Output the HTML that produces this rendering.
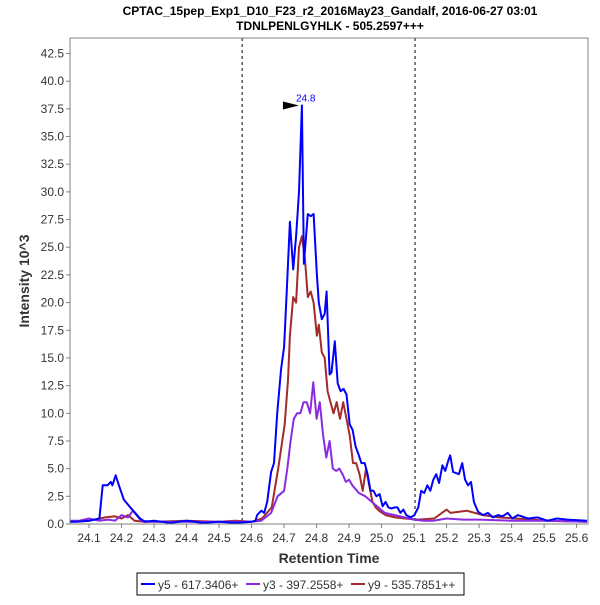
<!DOCTYPE html>
<html><head><meta charset="utf-8"><style>
body{margin:0;background:#fff;width:600px;height:600px;overflow:hidden;font-family:"Liberation Sans",sans-serif}
svg text{font-family:"Liberation Sans",sans-serif}
</style></head><body>
<svg id="chart" width="600" height="600">
<text x="330" y="15" text-anchor="middle" font-size="12" font-weight="bold" fill="#000">CPTAC_15pep_Exp1_D10_F23_r2_2016May23_Gandalf, 2016-06-27 03:01</text>
<text x="330" y="30" text-anchor="middle" font-size="12" font-weight="bold" fill="#000">TDNLPENLGYHLK - 505.2597+++</text>
<g id="grid"></g>
<g id="series"></g>
<rect x="70" y="38" width="518" height="486" fill="none" stroke="#808080"/>
<g id="axes"></g>
<text x="329" y="563" text-anchor="middle" font-size="14" font-weight="bold" fill="#333">Retention Time</text>
<text transform="translate(29,281) rotate(-90)" text-anchor="middle" font-size="14" font-weight="bold" fill="#333">Intensity 10^3</text>
<g>
<rect x="137" y="573" width="327" height="22" fill="#fff" stroke="#000"/>
<line x1="141" y1="584" x2="155" y2="584" stroke="#0000ff" stroke-width="2"/>
<text x="158" y="589" font-size="12" fill="#333">y5 - 617.3406+</text>
<line x1="246" y1="584" x2="260" y2="584" stroke="#8a2be2" stroke-width="2"/>
<text x="263" y="589" font-size="12" fill="#333">y3 - 397.2558+</text>
<line x1="351" y1="584" x2="365" y2="584" stroke="#a52a2a" stroke-width="2"/>
<text x="368" y="589" font-size="12" fill="#333">y9 - 535.7851++</text>
</g>
</svg>
<script>
const xTicks=[24.1,24.2,24.3,24.4,24.5,24.6,24.7,24.8,24.9,25.0,25.1,25.2,25.3,25.4,25.5,25.6];
const yTicks=[0,2.5,5,7.5,10,12.5,15,17.5,20,22.5,25,27.5,30,32.5,35,37.5,40,42.5];
const markers=[24.571,25.103];
const peakTime=24.755, peakValue=37.8, peakLabel="24.8";
const y5T=[24.042,24.062,24.102,24.132,24.142,24.157,24.167,24.172,24.182,24.192,24.207,24.227,24.242,24.257,24.272,24.3,24.35,24.4,24.45,24.5,24.55,24.6,24.612,24.617,24.63,24.639,24.648,24.66,24.669,24.679,24.691,24.7,24.709,24.718,24.728,24.737,24.746,24.755,24.761,24.773,24.782,24.791,24.801,24.807,24.816,24.825,24.831,24.84,24.846,24.856,24.865,24.874,24.883,24.892,24.902,24.911,24.92,24.929,24.938,24.948,24.957,24.966,24.975,24.984,24.994,25.003,25.012,25.021,25.03,25.04,25.049,25.058,25.067,25.076,25.089,25.101,25.113,25.122,25.131,25.141,25.15,25.159,25.168,25.177,25.187,25.196,25.205,25.211,25.22,25.229,25.238,25.248,25.257,25.266,25.275,25.284,25.297,25.312,25.327,25.342,25.358,25.372,25.388,25.402,25.419,25.45,25.48,25.51,25.54,25.57,25.632];
const y5V=[0.2,0.2,0.3,0.5,3.5,3.5,3.8,3.5,4.4,3.5,2.2,1.5,1.0,0.5,0.2,0.3,0.1,0.3,0.1,0.2,0.1,0.2,0.3,0.8,1.2,1.0,2.0,4.7,5.5,10,14,16,21.5,27.3,23,26,30,37.8,23.5,28,27.8,28,22.5,20,18.5,19,21,13.5,13.7,16.5,12.7,12,12.2,11.7,9,8.5,7,6.3,5.5,5.5,4.5,3,3,2.5,2.7,1.6,2,1.5,1.4,1.5,1.5,1.0,1.3,0.8,0.6,0.8,1.5,3,2.8,3.5,3,4,4.5,3.7,5.3,4.8,5.7,6.2,4.7,4.6,4.5,5.5,4,3.5,3.8,2,1.1,0.8,1,0.6,0.8,0.7,1.0,0.5,0.8,0.5,0.6,0.3,0.5,0.4,0.3];
const y3T=[24.042,24.07,24.1,24.13,24.16,24.18,24.2,24.22,24.235,24.26,24.3,24.4,24.5,24.6,24.63,24.66,24.68,24.7,24.71,24.72,24.73,24.74,24.75,24.76,24.77,24.78,24.79,24.8,24.81,24.82,24.83,24.84,24.85,24.86,24.87,24.88,24.89,24.9,24.91,24.93,24.95,24.97,24.99,25.01,25.04,25.07,25.1,25.13,25.16,25.2,25.25,25.3,25.4,25.5,25.632];
const y3V=[0.3,0.3,0.5,0.3,0.4,0.3,0.8,0.6,1.2,0.3,0.2,0.2,0.2,0.2,0.3,1.0,2.5,3,5,7.5,9.5,10,10,11,11,10,12.8,9.5,11,8,6,7.5,5,4.8,5,4.5,3.8,4,3.5,2.8,2.5,2,1.5,1.0,0.8,0.6,0.4,0.3,0.3,0.5,0.4,0.4,0.3,0.3,0.2];
const y9T=[24.042,24.1,24.15,24.18,24.2,24.22,24.24,24.27,24.3,24.4,24.5,24.55,24.6,24.632,24.662,24.682,24.702,24.712,24.718,24.728,24.737,24.746,24.755,24.764,24.773,24.782,24.791,24.801,24.807,24.816,24.825,24.834,24.843,24.852,24.862,24.872,24.882,24.892,24.902,24.912,24.922,24.932,24.942,24.952,24.962,24.972,24.982,24.992,25.012,25.042,25.072,25.112,25.162,25.2,25.212,25.262,25.312,25.362,25.412,25.512,25.632];
const y9V=[0.2,0.3,0.6,0.7,0.5,0.8,0.3,0.2,0.2,0.3,0.2,0.3,0.2,0.5,1.5,5,9,13,17,20.5,20,25,26,24,20.5,21,20,17,18,15.5,15,12,11,10,11,9.5,11,9.5,8,5.5,5.5,4.5,3,5,3.5,2,1.5,1.2,0.8,0.6,0.5,0.4,0.5,1.3,1.0,1.2,0.8,0.6,0.5,0.3,0.2];

const X0=70,X1=588,Y0=524,Y1=38,XMIN=24.0415,XMAX=25.635,YMAX=43.9;
const sx=t=>X0+(t-XMIN)/(XMAX-XMIN)*(X1-X0);
const sy=v=>Y0-(v/YMAX)*(Y0-Y1);
const NS="http://www.w3.org/2000/svg";
function mk(tag,attrs,parent){const e=document.createElementNS(NS,tag);for(const k in attrs)e.setAttribute(k,attrs[k]);parent.appendChild(e);return e;}
const axes=document.getElementById('axes'),grid=document.getElementById('grid'),ser=document.getElementById('series');
xTicks.forEach(t=>{const x=sx(t);
 const l=mk('line',{x1:x,y1:Y0,x2:x,y2:Y0+4,stroke:'#808080'},axes);
 
 
 const tx=mk('text',{x:x,y:Y0+18,'text-anchor':'middle','font-size':'12',fill:'#333'},axes);tx.textContent=t.toFixed(1);
 
 });
yTicks.forEach(v=>{const y=sy(v);
 const l=mk('line',{x1:X0-4,y1:y,x2:X0,y2:y,stroke:'#808080'},axes);
 
 
 const tx=mk('text',{x:X0-6,y:y+4,'text-anchor':'end','font-size':'12',fill:'#333'},axes);tx.textContent=v.toFixed(1);
 
 });
markers.forEach(t=>{const l=mk('line',{x1:sx(t),y1:Y1,x2:sx(t),y2:Y0,stroke:'#000','stroke-dasharray':'3,3','stroke-width':1},grid);
 
 });
function draw(T,V,color,name){const d=T.map((t,i)=>(i?'L':'M')+sx(t).toFixed(1)+','+sy(V[i]).toFixed(1)).join('');
 const p=mk('path',{d:d,fill:'none',stroke:color,'stroke-width':2,'stroke-linejoin':'round'},ser);
 
 }
draw(y9T,y9V,'#a52a2a','series-y9');
draw(y3T,y3V,'#8a2be2','series-y3');
draw(y5T,y5V,'#0000ff','series-y5');
const px=sx(peakTime),py=sy(peakValue);
const ar=mk('polygon',{points:`${px-19},${py-4} ${px-19},${py+4} ${px-3},${py}`,fill:'#000'},ser);


const pl=mk('text',{x:px-6,y:py-4,'font-size':'10',fill:'#0000ff'},ser);pl.textContent=peakLabel;


</script>
</body></html>
